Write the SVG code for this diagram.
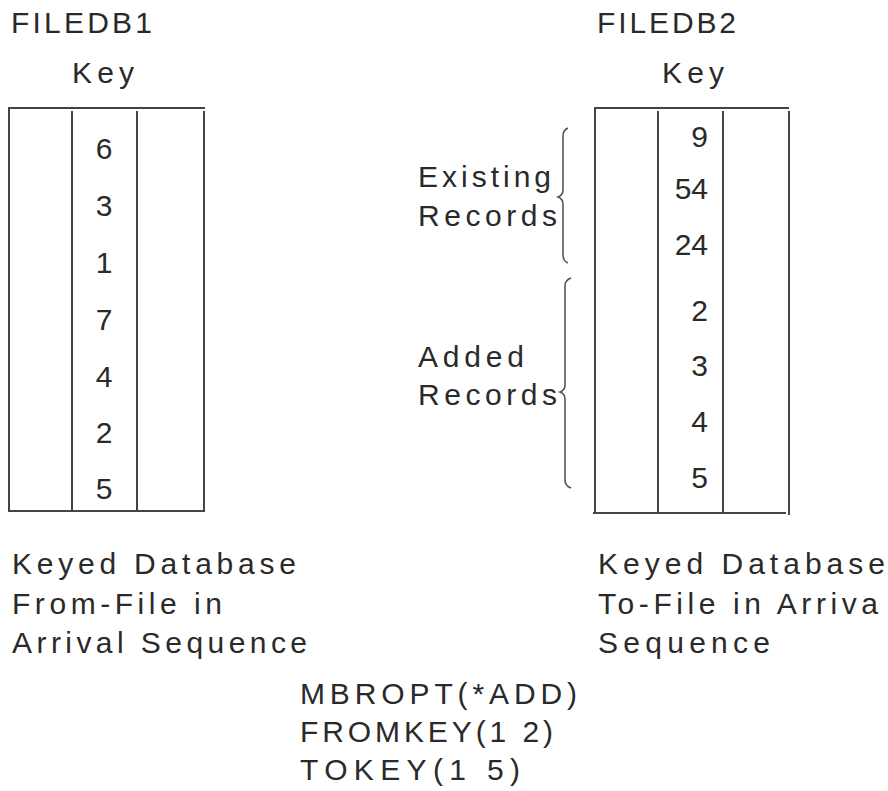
<svg xmlns="http://www.w3.org/2000/svg" width="888" height="791" viewBox="0 0 888 791">
<style>
text{font-family:"Liberation Sans",Arial,Helvetica,sans-serif;font-size:30px;fill:#2a2a2a}
.num{text-anchor:middle}
.rnum{text-anchor:end}
.ln{stroke:#444;stroke-width:2;fill:none}
.br{stroke:#555;stroke-width:1.6;fill:none}
</style>
<rect width="888" height="791" fill="#fff"/>
<g id="filedb1">
<text x="11" y="33" textLength="141" lengthAdjust="spacing">FILEDB1</text>
<text x="72" y="83" textLength="62" lengthAdjust="spacing">Key</text>
<path class="ln" d="M8,108H205M9,109V511M72,111V511M137,111V511M204,111V511M8,511H205"/>
<text class="num" x="104" y="159">6</text>
<text class="num" x="104" y="216">3</text>
<text class="num" x="104" y="273">1</text>
<text class="num" x="104" y="330">7</text>
<text class="num" x="104" y="387">4</text>
<text class="num" x="104" y="443">2</text>
<text class="num" x="104" y="499">5</text>
</g>
<g id="from-label">
<text x="12" y="574" textLength="284" lengthAdjust="spacing">Keyed Database</text>
<text x="12" y="614" textLength="210" lengthAdjust="spacing">From-File in</text>
<text x="12" y="653" textLength="295" lengthAdjust="spacing">Arrival Sequence</text>
</g>
<g id="filedb2">
<text x="597" y="33" textLength="139" lengthAdjust="spacing">FILEDB2</text>
<text x="662" y="83" textLength="62" lengthAdjust="spacing">Key</text>
<path class="ln" d="M594,108H789M595,109V513M658,111V513M723,111V513M789,111V515M593,513H786"/>
<text class="rnum" x="708" y="147">9</text>
<text class="rnum" x="708" y="199">54</text>
<text class="rnum" x="708" y="255">24</text>
<text class="rnum" x="708" y="321">2</text>
<text class="rnum" x="708" y="376">3</text>
<text class="rnum" x="708" y="432">4</text>
<text class="rnum" x="708" y="488">5</text>
</g>
<g id="to-label">
<text x="598" y="574" textLength="287" lengthAdjust="spacing">Keyed Database</text>
<text x="598" y="614" textLength="280" lengthAdjust="spacing">To-File in Arriva</text>
<text x="598" y="653" textLength="172" lengthAdjust="spacing">Sequence</text>
</g>
<g id="existing">
<text x="418" y="187" textLength="133" lengthAdjust="spacing">Existing</text>
<text x="418" y="226" textLength="139" lengthAdjust="spacing">Records</text>
</g>
<g id="added">
<text x="418" y="367" textLength="106" lengthAdjust="spacing">Added</text>
<text x="418" y="405" textLength="139" lengthAdjust="spacing">Records</text>
</g>
<g id="command">
<text x="300" y="704" textLength="277" lengthAdjust="spacing">MBROPT(*ADD)</text>
<text x="300" y="742" textLength="253" lengthAdjust="spacing">FROMKEY(1 2)</text>
<text x="300" y="780" textLength="220" lengthAdjust="spacing">TOKEY(1 5)</text>
</g>
<g id="connectors">
<path class="br" d="M568,128q-5,2 -5,8L563,190q0,5 -5,7q5,2 5,7L563,255q0,6 5,8"/>
<path class="br" d="M571,278q-6,2 -6,8L565,385q0,5 -5,7q5,2 5,7L565,480q0,6 6,8"/>
</g>
</svg>
